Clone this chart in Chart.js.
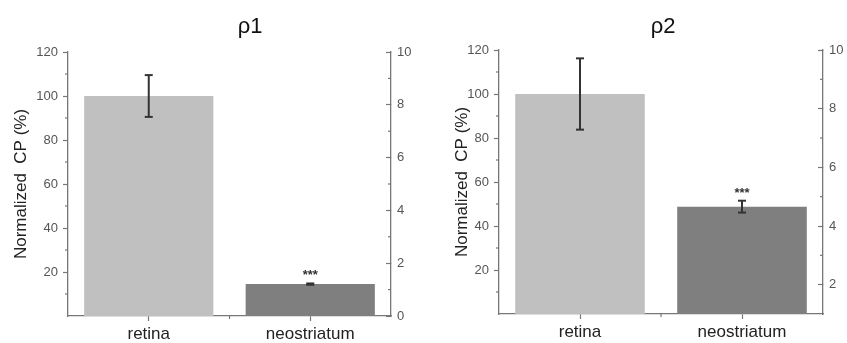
<!DOCTYPE html>
<html>
<head>
<meta charset="utf-8">
<script src="https://cdn.jsdelivr.net/npm/chart.js@4.4.0/dist/chart.umd.min.js"></script>
<style>
  body { margin: 0; background: #fff; }
  #wrap { position: relative; width: 847px; height: 343px; overflow: hidden; }
  #c1 { position: absolute; left: 0; top: 0; }
  #c2 { position: absolute; left: 430px; top: 0; }
</style>
</head>
<body>
<div id="wrap">
  <canvas id="c1" width="430" height="343"></canvas>
  <canvas id="c2" width="417" height="343"></canvas>
</div>
<script>
const categories = ["retina", "neostriatum"];
const barColors = ["#c0c0c0", "#7f7f7f"];
const marks = ["", "***"];

const rho1Values = [100, 14.5];
const rho1Errors = [9.5, 0.3];
const rho2Values = [100, 48.8];
const rho2Errors = [16.2, 2.7];

const leftMajor = [20, 40, 60, 80, 100, 120];
const leftMinor = [10, 30, 50, 70, 90, 110];
const rho1RightMajor = [0, 2, 4, 6, 8, 10];
const rho1RightMinor = [1, 3, 5, 7, 9];
const rho2RightMajor = [2, 4, 6, 8, 10];
const rho2RightMinor = [3, 5, 7, 9];

const FONT = "'Liberation Sans', Arial, sans-serif";
const AXIS = "#777";

// minor ticks, error bars, stars and the panel title
const extras = {
    id: "extras",
    afterDraw(chart, args, o) {
        const ctx = chart.ctx;
        const xs = chart.scales.x, ys = chart.scales.y, y2 = chart.scales.y2;
        const line = (a, b, c, d) => {
            ctx.beginPath(); ctx.moveTo(a, b); ctx.lineTo(c, d); ctx.stroke();
        };
        ctx.save();
        ctx.strokeStyle = AXIS;
        ctx.lineWidth = 1.2;
        o.leftMinor.forEach(v => {
            const py = ys.getPixelForValue(v);
            line(ys.right - 3, py, ys.right, py);
        });
        o.rightMinor.forEach(v => {
            const py = y2.getPixelForValue(v);
            line(y2.left, py, y2.left - 3, py);
        });
        const bx = xs.getPixelForValue(0.5);
        line(bx, xs.top, bx, xs.top + 3);

        ctx.strokeStyle = "#333";
        ctx.lineWidth = 2;
        o.values.forEach((v, i) => {
            const px = xs.getPixelForValue(i);
            const top = ys.getPixelForValue(v + o.errors[i]);
            const bot = ys.getPixelForValue(v - o.errors[i]);
            line(px, top, px, bot);
            line(px - 4, top, px + 4, top);
            line(px - 4, bot, px + 4, bot);
            if (marks[i]) {
                ctx.fillStyle = "#333";
                ctx.font = "bold 13px " + FONT;
                ctx.textAlign = "center";
                ctx.textBaseline = "alphabetic";
                ctx.fillText(marks[i], px, top - 4);
            }
        });

        ctx.fillStyle = "#111";
        ctx.font = "22px " + FONT;
        ctx.textAlign = "center";
        ctx.textBaseline = "alphabetic";
        ctx.fillText(o.title, o.titleX, 33);
        ctx.restore();
    }
};

function makeChart(id, cfg) {
    return new Chart(document.getElementById(id), {
        type: "bar",
        data: {
            labels: categories,
            datasets: [{
                data: cfg.values,
                backgroundColor: barColors,
                barPercentage: 0.8,
                categoryPercentage: 1.0
            }]
        },
        plugins: [extras],
        options: {
            responsive: false,
            animation: false,
            layout: { padding: { top: cfg.top, left: cfg.padLeft, right: 0, bottom: 0 } },
            scales: {
                x: {
                    grid: { display: true, offset: false, drawOnChartArea: false, tickLength: 5, color: AXIS, tickWidth: 1.2 },
                    border: { display: true, color: AXIS, width: 1.3 },
                    ticks: { color: "#222", font: { family: FONT, size: 17 }, padding: 3 },
                    afterFit: s => { s.height = cfg.xHeight; }
                },
                y: {
                    position: "left",
                    min: 0,
                    max: 120,
                    afterBuildTicks: s => { s.ticks = leftMajor.map(v => ({ value: v })); },
                    grid: { drawOnChartArea: false, tickLength: 5, color: AXIS, tickWidth: 1.2 },
                    border: { display: true, color: AXIS, width: 1.3 },
                    ticks: { color: "#555", font: { family: FONT, size: 13 }, padding: 5 },
                    title: {
                        display: true,
                        text: "Normalized  CP (%)",
                        color: "#222",
                        font: { family: FONT, size: 17 },
                        padding: { top: 11, bottom: 0 }
                    },
                    afterFit: s => { s.width = cfg.yWidth; }
                },
                y2: {
                    position: "right",
                    min: cfg.rightMin,
                    max: 10,
                    afterBuildTicks: s => { s.ticks = cfg.rightMajor.map(v => ({ value: v })); },
                    grid: { drawOnChartArea: false, tickLength: -5, color: AXIS, tickWidth: 1.2 },
                    border: { display: true, color: AXIS, width: 1.3 },
                    ticks: { color: "#555", font: { family: FONT, size: 13 }, padding: 11 },
                    afterFit: s => { s.width = cfg.y2Width; }
                }
            },
            plugins: {
                legend: { display: false },
                tooltip: { enabled: false },
                title: { display: false },
                extras: {
                    values: cfg.values,
                    errors: cfg.errors,
                    leftMinor: leftMinor,
                    rightMinor: cfg.rightMinor,
                    title: cfg.title,
                    titleX: cfg.titleX
                }
            }
        }
    });
}

makeChart("c1", {
    values: rho1Values, errors: rho1Errors,
    rightMin: 0, rightMajor: rho1RightMajor, rightMinor: rho1RightMinor,
    title: "\u03c11", titleX: 250,
    top: 52, padLeft: 0, yWidth: 68, y2Width: 39, xHeight: 27
});

makeChart("c2", {
    values: rho2Values, errors: rho2Errors,
    rightMin: 1, rightMajor: rho2RightMajor, rightMinor: rho2RightMinor,
    title: "\u03c12", titleX: 233,
    top: 50, padLeft: 11, yWidth: 58, y2Width: 24, xHeight: 29
});
</script>
</body>
</html>
